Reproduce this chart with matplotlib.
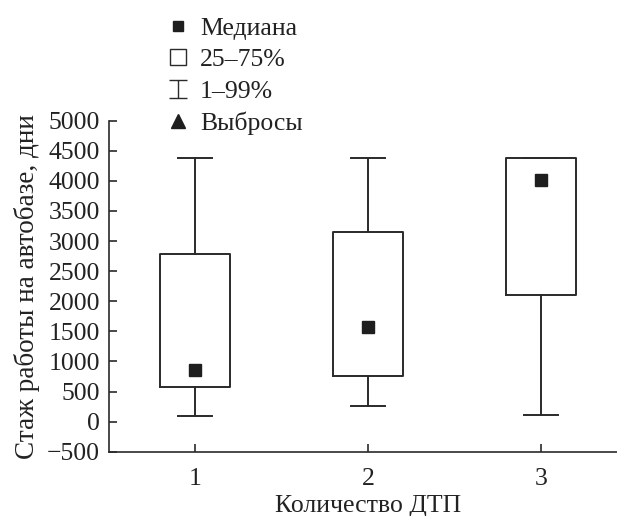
import numpy as np
import matplotlib
matplotlib.use("Agg")
import matplotlib.pyplot as plt
from matplotlib.lines import Line2D
from matplotlib.path import Path

# data
groups = [1, 2, 3]
medians = [860, 1580, 4020]
q1 = [580, 750, 2110]
q3 = [2780, 3150, 4380]
p1 = [90, 260, 110]
p99 = [4380, 4380, 4380]

y_ticks = [-500, 0, 500, 1000, 1500, 2000, 2500, 3000, 3500, 4000, 4500, 5000]
legend_labels = ["Медиана", "25\u201375%", "1\u201399%", "Выбросы"]

plt.rcParams['font.family'] = ['Liberation Serif', 'DejaVu Serif']

fig = plt.figure(figsize=(6.17, 5.16), dpi=100)
W, H = 617, 516
ax = fig.add_axes([108.5 / W, 64.3 / H, 519 / W, 331 / H])

dark = '#2a2a2a'
txt = '#222222'
stats = []
for g, m, a, b, lo, hi in zip(groups, medians, q1, q3, p1, p99):
    stats.append(dict(med=m, q1=a, q3=b, whislo=lo, whishi=hi, fliers=[], label=str(g)))

ax.bxp(stats, positions=groups, widths=0.405, showfliers=False,
       boxprops=dict(color=dark, linewidth=1.4),
       whiskerprops=dict(color=dark, linewidth=1.4),
       capprops=dict(color=dark, linewidth=1.4),
       medianprops=dict(linewidth=0),
       capwidths=0.2, manage_ticks=False)
ax.plot(groups, medians, 's', color='#1e1e1e', markersize=8, linestyle='none')

ax.set_xlim(0.5, 3.5)
ax.set_ylim(-500, 5000)
ax.set_xticks(groups)
ax.set_xticklabels([str(g) for g in groups])
ax.set_yticks(y_ticks)
ax.set_yticklabels([str(t).replace('-', '\u2212') for t in y_ticks])

for s in ['top', 'right']:
    ax.spines[s].set_visible(False)
for s in ['left', 'bottom']:
    ax.spines[s].set_linewidth(1.2)
    ax.spines[s].set_color(dark)

ax.tick_params(axis='both', direction='in', length=6, width=1.2, color=dark,
               labelsize=18.5, labelcolor=txt)
ax.tick_params(axis='y', pad=6)
ax.tick_params(axis='x', pad=12)

ax.set_xlabel("Количество ДТП", fontsize=18.5, color=txt, labelpad=3)
ax.set_ylabel("Стаж работы на автобазе, дни", fontsize=19.5, color=txt, labelpad=5)

# legend symbols
ibeam = Path([(0, -1), (0, 1), (-1, 1), (1, 1), (-1, -1), (1, -1)],
             [Path.MOVETO, Path.LINETO, Path.MOVETO, Path.LINETO, Path.MOVETO, Path.LINETO])
handles = [
    Line2D([], [], marker='s', color='#1e1e1e', markersize=7.5, linestyle='none'),
    Line2D([], [], marker='s', markerfacecolor='white', markeredgecolor=dark,
           markeredgewidth=1.0, markersize=11.5, linestyle='none'),
    Line2D([], [], marker=ibeam, color=dark, markersize=12.5, markeredgewidth=1.0,
           linestyle='none'),
    Line2D([], [], marker='^', color='#1e1e1e', markersize=10, linestyle='none'),
]
fig.legend(handles, legend_labels, loc='upper left', bbox_to_anchor=(155 / W, 1 - 4 / H),
           frameon=False, fontsize=18.5, handlelength=0.8, handletextpad=0.45,
           labelspacing=0.33, borderpad=0, labelcolor=txt)

fig.savefig('out.png', dpi=100)
